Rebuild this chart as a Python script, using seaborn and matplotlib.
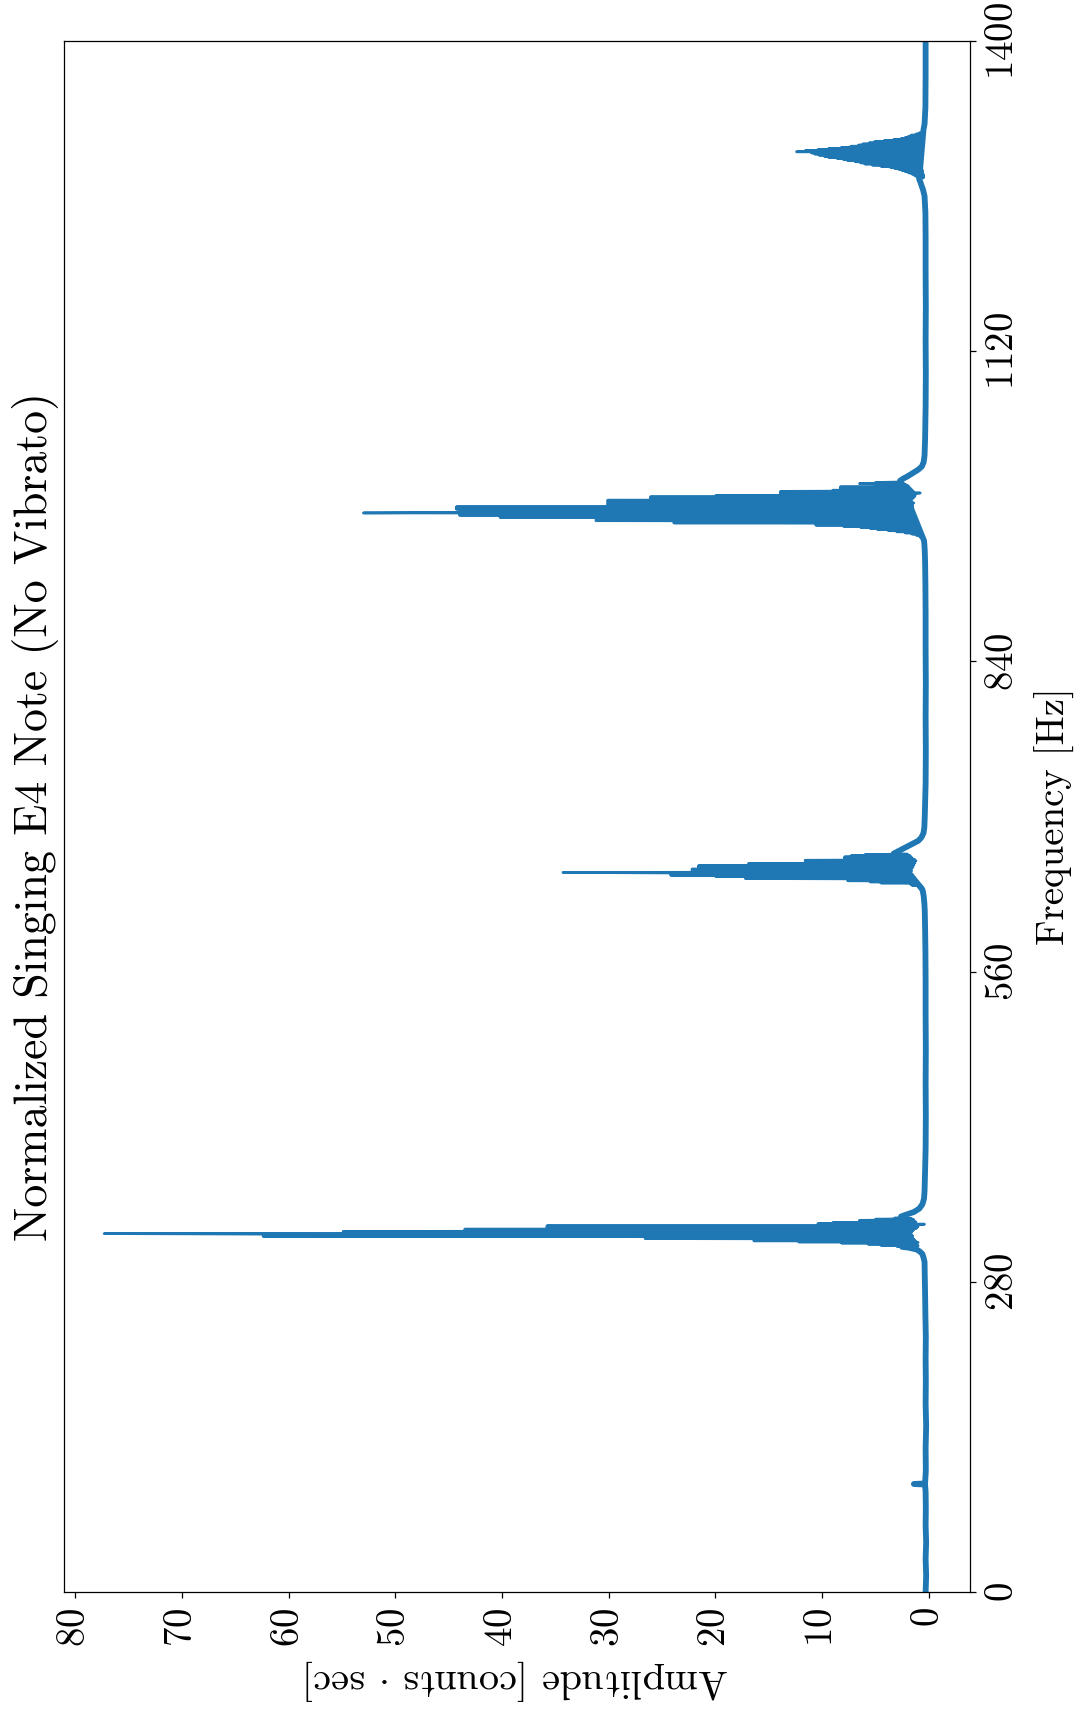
import numpy as np
import pandas as pd
import matplotlib
matplotlib.use("Agg")
import matplotlib.pyplot as plt
import seaborn as sns

# ---------------------------------------------------------------
# Spectrum of a sung E4 note (no vibrato)
# ---------------------------------------------------------------

# Noise floor and skirts between the harmonics (frequency in Hz, amplitude)
floor_freq = [0.0, 15, 30, 45, 60, 75, 90, 97.0, 97.5, 98.0, 110, 130, 150, 170, 190,
              210, 230, 250, 270, 285, 298, 302, 305, 307, 309, 310, 311, 311.5,
              339, 341, 343, 346, 350, 355, 362, 380, 400, 430, 460, 490, 520, 550,
              580, 600, 615, 622, 628, 632, 634,
              666.5, 668, 670, 672, 674, 676, 678, 681, 685, 690, 700, 730, 760, 790,
              820, 850, 880, 910, 930, 940, 946, 949,
              1003, 1005, 1007, 1010, 1013, 1016, 1020, 1026, 1040, 1070, 1100, 1130,
              1160, 1190, 1220, 1245, 1260, 1266, 1270, 1273, 1275,
              1320, 1325, 1340, 1370, 1400]
floor_amp = [0.3, 0.25, 0.3, 0.25, 0.3, 0.28, 0.3, 0.35, 1.4, 0.35, 0.28, 0.3, 0.25, 0.3, 0.28,
             0.3, 0.28, 0.32, 0.35, 0.38, 0.4, 0.5, 0.6, 0.8, 1.1, 1.5, 2.0, 2.5,
             2.6, 2.0, 1.4, 0.9, 0.6, 0.45, 0.4, 0.35, 0.3, 0.28, 0.3, 0.28, 0.3, 0.3,
             0.32, 0.35, 0.38, 0.42, 0.48, 0.55, 0.6,
             3.3, 3.0, 2.6, 2.2, 1.8, 1.4, 1.0, 0.7, 0.5, 0.42, 0.38, 0.3, 0.28, 0.3,
             0.28, 0.3, 0.3, 0.32, 0.35, 0.38, 0.42, 0.45,
             2.7, 2.4, 2.0, 1.5, 1.0, 0.65, 0.48, 0.4, 0.35, 0.3, 0.28, 0.3,
             0.28, 0.3, 0.3, 0.32, 0.4, 0.55, 0.7, 0.8, 0.9,
             0.5, 0.4, 0.32, 0.3, 0.3]

# Harmonic clusters sampled on a 0.5 Hz bin grid
bin_width = 0.5

h1_start = 312.0
h1_amp = [3.0, 1.0, 4.5, 1.1, 5.7, 1.2, 8.2, 1.0, 12.2, 1.2, 16.4, 1.3, 16.4, 1.4,
          26.6, 1.5, 26.6, 1.6, 62.4, 1.5, 62.4, 1.6, 62.4, 77.3, 1.8, 54.9, 1.6,
          54.9, 1.5, 43.5, 1.4, 43.5, 1.2, 35.8, 1.1, 35.8, 1.0, 35.8, 1.2, 10.4,
          0.4, 10.4, 2.5, 9.0, 1.2, 6.5, 1.5, 6.5, 1.4, 5.0, 1.6, 3.2, 2.0]

h2_start = 636.0
h2_amp = [0.8, 0.6, 1.0, 0.7, 1.6, 0.8, 1.7, 0.9, 4.5, 1.0, 5.5, 1.1, 7.6, 1.2,
          7.6, 1.3, 17.2, 1.4, 17.2, 1.5, 20.0, 1.6, 24.2, 1.6, 24.2, 1.7, 24.2,
          34.3, 1.7, 22.2, 1.6, 22.2, 2.3, 22.2, 1.6, 21.6, 1.5, 21.6, 1.5, 21.6,
          1.4, 16.9, 1.4, 16.9, 1.3, 11.6, 1.3, 11.6, 1.2, 11.6, 1.3, 7.9, 1.5,
          7.9, 1.6, 7.9, 1.7, 7.3, 1.8, 6.0, 2.0]

h3_start = 950.0
h3_amp = [0.5, 0.4, 0.6, 0.5, 0.8, 0.5, 0.9, 0.6, 1.2, 0.6, 1.6, 0.7, 2.2, 0.7,
          3.0, 0.8, 3.8, 0.8, 4.8, 0.9, 5.5, 0.9, 6.4, 1.0, 8.0, 1.0, 10.6, 1.1,
          10.6, 1.1, 23.9, 1.2, 23.9, 1.2, 31.2, 1.3, 31.2, 1.3, 31.2, 1.4, 40.2,
          1.4, 40.2, 1.5, 44.0, 1.5, 44.0, 1.5, 53.0, 44.0, 1.6, 44.0, 1.6, 44.0,
          3.5, 44.3, 1.6, 44.3, 1.5, 44.3, 1.5, 30.1, 1.6, 30.1, 1.5, 30.1, 1.4,
          30.1, 1.6, 30.1, 3.8, 30.1, 1.6, 26.1, 1.5, 26.1, 1.4, 26.1, 1.3, 20.0,
          1.3, 13.9, 1.2, 13.9, 0.8, 13.9, 1.4, 13.9, 1.5, 9.0, 1.6, 8.3, 1.7,
          8.3, 1.8, 8.3, 1.9, 5.0, 2.0, 3.4, 2.2, 6.5, 2.4, 5.0, 2.6]

h4_start = 1276.0
h4_amp = [1.0, 0.5, 1.1, 0.5, 1.2, 0.5, 1.4, 0.5, 1.6, 0.6, 1.9, 0.6, 2.2, 0.6,
          2.5, 0.6, 2.8, 0.7, 3.2, 0.7, 3.6, 0.7, 4.5, 0.8, 5.3, 0.8, 6.0, 0.8,
          6.4, 0.8, 6.9, 0.9, 7.6, 0.9, 8.0, 0.9, 8.6, 1.0, 9.4, 1.0, 9.8, 1.0,
          10.3, 1.0, 10.7, 1.0, 11.0, 0.9, 12.4, 1.0, 11.6, 0.9, 10.4, 1.0, 9.4,
          1.0, 8.2, 0.9, 7.3, 0.9, 6.6, 0.8, 6.2, 0.8, 5.6, 0.8, 5.1, 0.7, 4.2,
          0.7, 3.3, 0.6, 2.6, 0.6, 2.2, 0.5, 1.9, 0.5, 1.65, 0.5, 1.2, 0.45, 0.9,
          0.4, 0.6]

freq_ticks = [0, 280, 560, 840, 1120, 1400]
amp_ticks = [0, 10, 20, 30, 40, 50, 60, 70, 80]

title = "Normalized Singing E4 Note (No Vibrato)"
freq_label = "Frequency [Hz]"
amp_label = r"Amplitude [counts $\cdot$ sec]"

# ---------------------------------------------------------------
floor = pd.DataFrame({"frequency": floor_freq, "amplitude": floor_amp})
frames = [floor]
for start, amps in [(h1_start, h1_amp), (h2_start, h2_amp),
                    (h3_start, h3_amp), (h4_start, h4_amp)]:
    f = start + bin_width * np.arange(len(amps))
    frames.append(pd.DataFrame({"frequency": f, "amplitude": amps}))
spec = pd.concat(frames).sort_values("frequency", kind="stable").reset_index(drop=True)

sns.set_style("ticks")
plt.rcParams["font.family"] = ["cmr10", "DejaVu Serif"]
plt.rcParams["mathtext.fontset"] = "cm"
plt.rcParams["axes.formatter.use_mathtext"] = True
plt.rcParams["axes.unicode_minus"] = False

blue = "#1f77b4"
fig = plt.figure(figsize=(10.83, 17.11), dpi=100)
ax = fig.add_axes([64 / 1083, (1711 - 1592) / 1711, 906 / 1083, 1551 / 1711])

# noisy floor: a broad stroke along the floor envelope
sns.lineplot(data=floor, x="amplitude", y="frequency", orient="y", sort=False,
             estimator=None, color=blue, lw=4.2, ax=ax)
# full spectrum
sns.lineplot(data=spec, x="amplitude", y="frequency", orient="y", sort=False,
             estimator=None, color=blue, lw=1.9, ax=ax)

ax.set_xlim(81.06, -3.86)
ax.set_ylim(0, 1400)
ax.set_xticks(amp_ticks)
ax.set_yticks(freq_ticks)
ax.yaxis.tick_right()
ax.yaxis.set_label_position("right")

for sp in ax.spines.values():
    sp.set_visible(True)
    sp.set_color("black")
    sp.set_linewidth(0.9)

ax.tick_params(axis="both", direction="out", length=4, width=0.9, color="black",
               labelsize=28, pad=7, labelcolor="black")
ax.tick_params(axis="x", labelrotation=90)
ax.tick_params(axis="y", labelrotation=90, left=False, right=True)
for lab in ax.get_yticklabels():
    lab.set_verticalalignment("center")

ax.set_xlabel(amp_label, fontsize=29, rotation=180, color="black")
ax.xaxis.set_label_coords(0.5, -0.0426)
ax.set_ylabel(freq_label, fontsize=28, rotation=90, color="black")
ax.yaxis.set_label_coords(1.0717, 0.5)

ax.text(-0.032, 0.5, title, transform=ax.transAxes, rotation=90,
        ha="center", va="center", fontsize=33, color="black")

fig.savefig("out.png", dpi=100)
